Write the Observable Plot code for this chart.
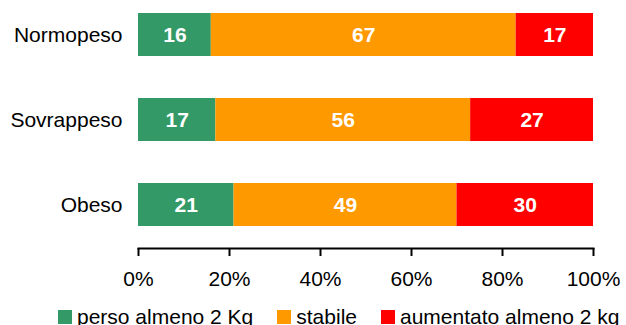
<!DOCTYPE html>
<html>
<head>
<meta charset="utf-8">
<script src="https://cdn.jsdelivr.net/npm/d3@7"></script>
<script src="https://cdn.jsdelivr.net/npm/@observablehq/plot@0.6"></script>
<style>
  body { margin: 0; background: #fff; font-family: "Liberation Sans", Arial, sans-serif; }
  #chart { position: relative; width: 626px; height: 325px; overflow: hidden; }
  .legend { position: absolute; left: 58px; top: 305px; display: flex; font-size: 21px; line-height: 24px; color: #000; white-space: nowrap; }
  .legend .item { display: flex; align-items: center; margin-right: 24px; }
  .legend .sw { width: 14px; height: 14px; margin-right: 5px; }
</style>
</head>
<body>
<div id="chart"></div>
<script>
const categories = ["Normopeso", "Sovrappeso", "Obeso"];
const seriesNames = ["perso almeno 2 Kg", "stabile", "aumentato almeno 2 kg"];
const persoValues = [16, 17, 21];
const stabileValues = [67, 56, 49];
const aumentatoValues = [17, 27, 30];
const seriesColors = ["#339966", "#FF9900", "#FF0000"];
const xTicks = [0, 20, 40, 60, 80, 100];

const seriesValues = [persoValues, stabileValues, aumentatoValues];
const data = [];
categories.forEach((c, i) => {
  seriesNames.forEach((s, j) => {
    data.push({cat: c, series: s, value: seriesValues[j][i]});
  });
});

const plot = Plot.plot({
  width: 626,
  height: 300,
  marginLeft: 138,
  marginRight: 33,
  marginTop: 0,
  marginBottom: 52,
  style: {fontFamily: "'Liberation Sans', Arial, sans-serif", fontSize: "21px", color: "#000", background: "#fff"},
  x: {domain: [0, 100]},
  y: {domain: categories, range: [12, 226], paddingInner: 0.497, paddingOuter: 0},
  color: {domain: seriesNames, range: seriesColors},
  marks: [
    Plot.barX(data, Plot.stackX({x: "value", y: "cat", z: "series", fill: "series"})),
    Plot.text(data, Plot.stackX({x: "value", y: "cat", z: "series", text: d => String(d.value), fill: "#fff", fontWeight: "bold", fontSize: 21})),
    Plot.axisY({tickSize: 0, tickPadding: 16, fontSize: 21, label: null}),
    Plot.axisX({ticks: xTicks, tickSize: 8, tickPadding: 15, strokeWidth: 2, fontSize: 21, tickFormat: d => d + "%", label: null}),
    Plot.frame({anchor: "bottom", strokeWidth: 2})
  ]
});

const container = document.getElementById("chart");
container.appendChild(plot);

const legend = document.createElement("div");
legend.className = "legend";
seriesNames.forEach((s, i) => {
  const item = document.createElement("div");
  item.className = "item";
  const sw = document.createElement("span");
  sw.className = "sw";
  sw.style.background = seriesColors[i];
  const label = document.createElement("span");
  label.textContent = s;
  item.appendChild(sw);
  item.appendChild(label);
  legend.appendChild(item);
});
container.appendChild(legend);
</script>
</body>
</html>
